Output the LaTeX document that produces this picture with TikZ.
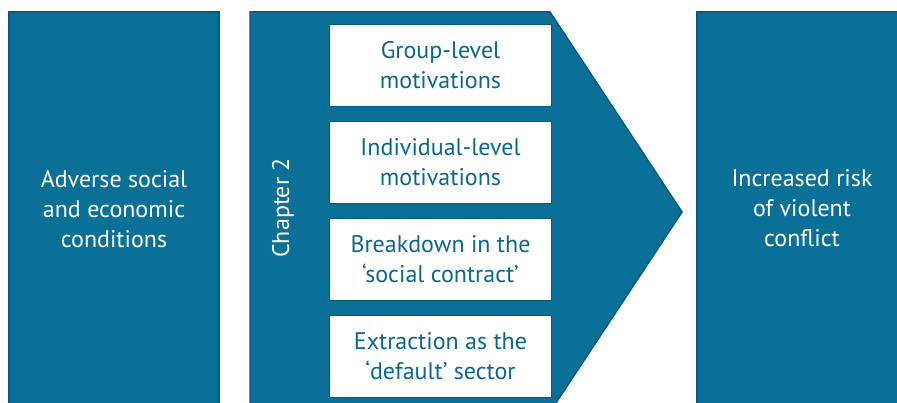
\documentclass[tikz,border=0pt]{standalone}
\usepackage{fontspec}
\setmainfont{PT Sans}
\usetikzlibrary{positioning}
\definecolor{FlowBlue}{HTML}{0B7098}
\definecolor{FlowEdge}{HTML}{045A82}
\definecolor{FlowText}{HTML}{0B6690}

\tikzset{
    bluebox/.style={draw=FlowEdge, line width=1.5pt, fill=FlowBlue, text=white, align=center, font=\fontsize{24}{30}\selectfont},
    factorbox/.style={draw=FlowEdge, line width=1.8pt, fill=white, text=FlowText, align=center, minimum width=222pt, minimum height=82pt, inner sep=0pt, font=\fontsize{24}{30}\selectfont}
}

\begin{document}
\begin{tikzpicture}[x=1pt, y=-1pt]
        \useasboundingbox (0,0) rectangle (897,403);
        \clip (0,0) rectangle (897,403);

        \draw[bluebox] (9,12) rectangle (219,430);
        \node[text=white, align=center, font=\fontsize{24}{30}\selectfont] (adverse) at (114,209) {Adverse social\\and economic\\conditions};

        \draw[bluebox] (250,12) -- (550,12) -- (682,212) -- (550,412) -- (250,412) -- cycle;
        \node[rotate=90, text=white, font=\fontsize{24}{30}\selectfont] (chapter) at (283,208) {Chapter 2};

        \foreach \i/\txt in {0/{Group-level\\motivations}, 1/{Individual-level\\motivations}, 2/{Breakdown in the\\‘social contract’}, 3/{Extraction as the\\‘default’ sector}} {
            \node[factorbox] (factor\i) at (440.5,65.5+97*\i) {\txt};
        }

        \draw[bluebox] (697,12) rectangle (910,430);
        \node[text=white, align=center, font=\fontsize{24}{30}\selectfont] (risk) at (802,208) {Increased risk\\of violent\\conflict};
    \end{tikzpicture}
\end{document}
